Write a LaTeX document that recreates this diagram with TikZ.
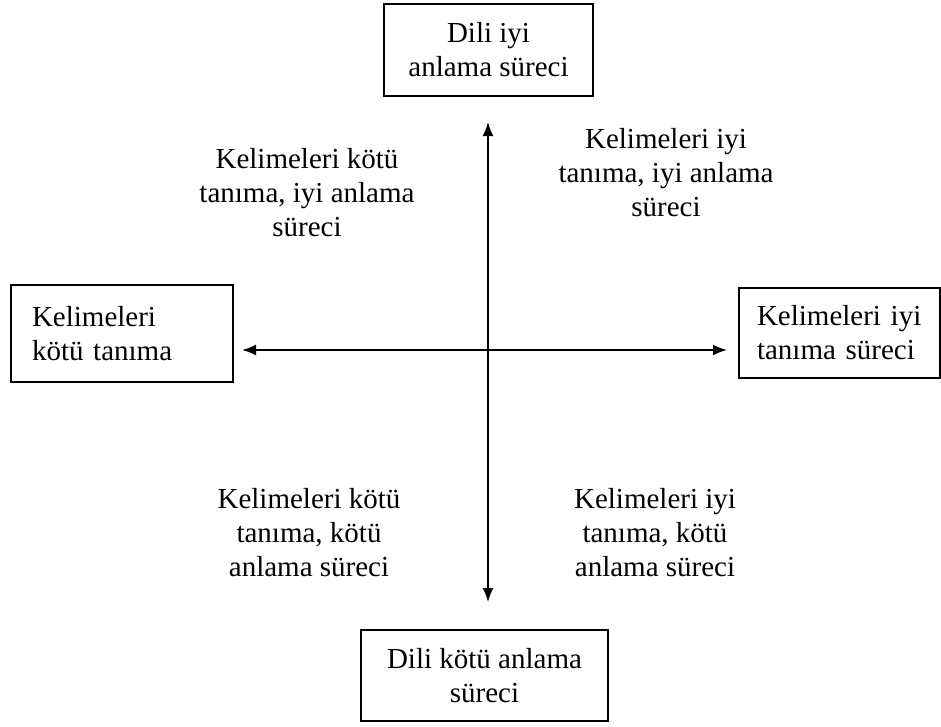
\documentclass[tikz,border=0pt]{standalone}
\usepackage{fontspec}
\setmainfont{Liberation Serif}
\usetikzlibrary{arrows.meta}
\begin{document}
\begin{tikzpicture}[x=1pt,y=-1pt,
  every node/.style={font=\fontsize{29}{34}\selectfont},
  box/.style={draw, line width=1.5pt, inner sep=0pt, align=center},
  sidebox/.style={draw, line width=1.5pt, inner ysep=0pt, align=left},
  quad/.style={align=center, inner sep=0pt},
  axis/.style={line width=1.8pt, {Latex[length=14pt,width=11pt]}-{Latex[length=14pt,width=11pt]}}]
\useasboundingbox (0,0) rectangle (941,726);
\node[box, minimum width=209, minimum height=92] (top) at (488.5,50) {Dili iyi\\anlama süreci};
\node[box, minimum width=247, minimum height=91] (bottom) at (484.5,675.5) {Dili kötü anlama\\süreci};
\node[sidebox, text width=180, inner xsep=21, minimum height=97] (left) at (122,333.5) {Kelimeleri\\kötü tanıma};
\node[sidebox, text width=165, inner xsep=18, minimum height=90] (right) at (839.5,333) {Kelimeleri iyi\\tanıma süreci};
\node[quad] (tl) at (307,193) {Kelimeleri kötü\\tanıma, iyi anlama\\süreci};
\node[quad] (tr) at (666,173) {Kelimeleri iyi\\tanıma, iyi anlama\\süreci};
\node[quad] (bl) at (309,533) {Kelimeleri kötü\\tanıma, kötü\\anlama süreci};
\node[quad] (br) at (655,533) {Kelimeleri iyi\\tanıma, kötü\\anlama süreci};
\coordinate (vt) at (488,122);
\coordinate (vb) at (488,602);
\coordinate (hl) at (242,350);
\coordinate (hr) at (727,350);
\draw[axis] (vt) -- (vb);
\draw[axis] (hl) -- (hr);
\end{tikzpicture}
\end{document}
